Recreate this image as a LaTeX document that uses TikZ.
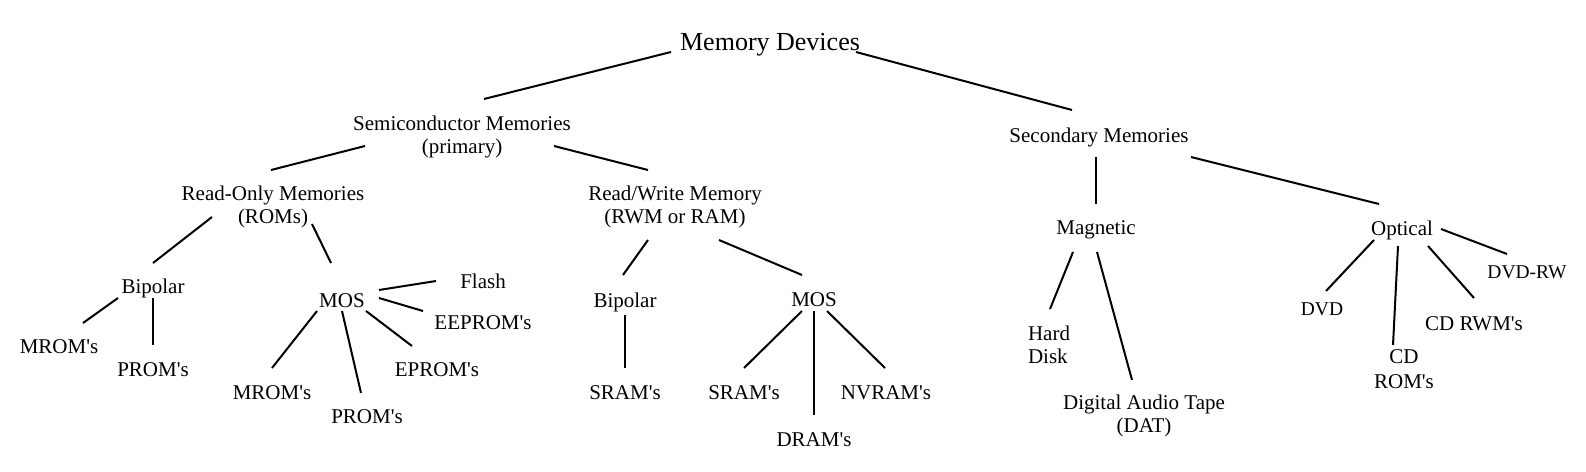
\documentclass[tikz,border=0pt]{standalone}
\usepackage{fontspec}
\setmainfont{Liberation Serif}
\tikzset{
  item/.style={font=\fontsize{21}{23}\selectfont, inner sep=0pt, anchor=base},
  link/.style={line width=2pt}
}
\begin{document}
\begin{tikzpicture}[x=1pt, y=-1pt]
\useasboundingbox (0,0) rectangle (1586,471);
% levels 0 and 1
\node[item, font=\fontsize{26}{28}\selectfont] (root) at (770,50) {Memory Devices};
\node[item, align=center] (semi) at (462,153) {Semiconductor Memories\\(primary)};
\node[item] (sec) at (1099,142) {Secondary Memories};
% semiconductor branch
\node[item, align=center] (rom) at (273,223) {Read-Only Memories\\(ROMs)};
\node[item, align=center] (rwm) at (675,223) {Read/Write Memory\\(RWM or RAM)};
\node[item] (bip1) at (153,293) {Bipolar};
\node[item] (mrom1) at (59,353) {MROM\textquotesingle s};
\node[item] (prom1) at (153,376) {PROM\textquotesingle s};
\node[item] (mos1) at (342,307) {MOS};
\node[item] (flash) at (483,288) {Flash};
\node[item] (eeprom) at (483,329) {EEPROM\textquotesingle s};
\node[item] (mrom2) at (272,399) {MROM\textquotesingle s};
\node[item] (prom2) at (367,423) {PROM\textquotesingle s};
\node[item] (eprom) at (437,376) {EPROM\textquotesingle s};
\node[item] (bip2) at (625,307) {Bipolar};
\node[item] (mos2) at (814,306) {MOS};
\node[item] (sram1) at (625,399) {SRAM\textquotesingle s};
\node[item] (sram2) at (744,399) {SRAM\textquotesingle s};
\node[item] (dram) at (814,446) {DRAM\textquotesingle s};
\node[item] (nvram) at (886,399) {NVRAM\textquotesingle s};
% secondary branch
\node[item] (mag) at (1096,234) {Magnetic};
\node[item] (opt) at (1402,235) {Optical};
\node[item, align=left] (hard) at (1049,363) {Hard\\Disk};
\node[item, align=center] (dat) at (1144,432) {Digital Audio Tape\\(DAT)};
\node[item, font=\fontsize{19.5}{22}\selectfont] (dvd) at (1322,315) {DVD};
\node[item, align=center, font=\fontsize{21}{25}\selectfont] (cdrom) at (1404,388) {CD\\ROM\textquotesingle s};
\node[item] (cdrwm) at (1474,330) {CD RWM\textquotesingle s};
\node[item, font=\fontsize{19.5}{22}\selectfont] (dvdrw) at (1527,278) {DVD-RW};
% connectors
\draw[link] ([shift={(-99,2)}]root.base) -- ([shift={(22,-54)}]semi.base);
\draw[link] ([shift={(86,2)}]root.base) -- ([shift={(-27,-32)}]sec.base);
\draw[link] ([shift={(-97,-7)}]semi.base) -- ([shift={(-2,-53)}]rom.base);
\draw[link] ([shift={(92,-7)}]semi.base) -- ([shift={(-27,-53)}]rwm.base);
\draw[link] ([shift={(-61,-6)}]rom.base) -- ([shift={(0,-30)}]bip1.base);
\draw[link] ([shift={(39,1)}]rom.base) -- ([shift={(-11,-44)}]mos1.base);
\draw[link] ([shift={(-35,5)}]bip1.base) -- ([shift={(24,-30)}]mrom1.base);
\draw[link] ([shift={(0,5)}]bip1.base) -- ([shift={(0,-31)}]prom1.base);
\draw[link] ([shift={(37,-17)}]mos1.base) -- ([shift={(-47,-7)}]flash.base);
\draw[link] ([shift={(37,-9)}]mos1.base) -- ([shift={(-60,-18)}]eeprom.base);
\draw[link] ([shift={(-25,4)}]mos1.base) -- ([shift={(0,-31)}]mrom2.base);
\draw[link] ([shift={(0,4)}]mos1.base) -- ([shift={(-6,-30)}]prom2.base);
\draw[link] ([shift={(24,4)}]mos1.base) -- ([shift={(-25,-30)}]eprom.base);
\draw[link] ([shift={(-27,17)}]rwm.base) -- ([shift={(-2,-32)}]bip2.base);
\draw[link] ([shift={(44,17)}]rwm.base) -- ([shift={(-12,-31)}]mos2.base);
\draw[link] ([shift={(0,8)}]bip2.base) -- ([shift={(0,-31)}]sram1.base);
\draw[link] ([shift={(-12,5)}]mos2.base) -- ([shift={(0,-31)}]sram2.base);
\draw[link] ([shift={(0,5)}]mos2.base) -- ([shift={(0,-31)}]dram.base);
\draw[link] ([shift={(13,5)}]mos2.base) -- ([shift={(-1,-31)}]nvram.base);
\draw[link] ([shift={(-3,15)}]sec.base) -- ([shift={(0,-30)}]mag.base);
\draw[link] ([shift={(92,15)}]sec.base) -- ([shift={(-23,-31)}]opt.base);
\draw[link] ([shift={(-23,18)}]mag.base) -- ([shift={(1,-54)}]hard.base);
\draw[link] ([shift={(1,18)}]mag.base) -- ([shift={(-12,-52)}]dat.base);
\draw[link] ([shift={(-28,5)}]opt.base) -- ([shift={(4,-24)}]dvd.base);
\draw[link] ([shift={(-4,11)}]opt.base) -- ([shift={(-11,-43)}]cdrom.base);
\draw[link] ([shift={(26,11)}]opt.base) -- ([shift={(0,-32)}]cdrwm.base);
\draw[link] ([shift={(39,-6)}]opt.base) -- ([shift={(-20,-24)}]dvdrw.base);
\end{tikzpicture}
\end{document}
